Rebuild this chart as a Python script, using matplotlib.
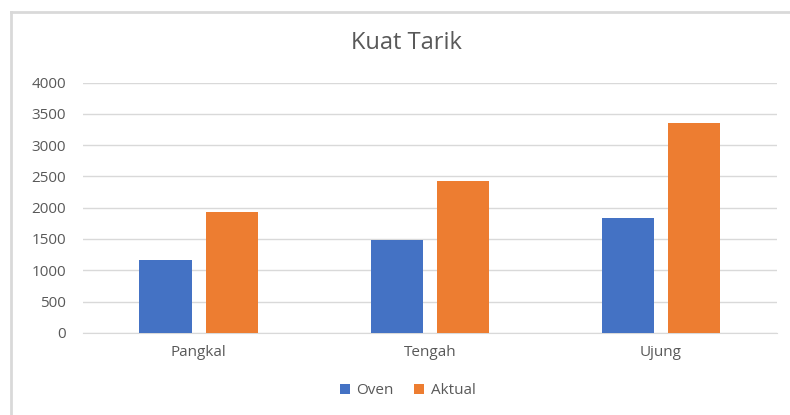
import matplotlib.pyplot as plt
import numpy as np

# --- Data ---
kategori = ["Pangkal", "Tengah", "Ujung"]
oven = [1172, 1481, 1832]
aktual = [1933, 2428, 3361]
yticks = [0, 500, 1000, 1500, 2000, 2500, 3000, 3500, 4000]

BLUE = "#4472C4"
ORANGE = "#ED7D31"
TEXT_CLR = "#595959"
GRID_CLR = "#D9D9D9"

plt.rcParams["font.family"] = ["Open Sans", "DejaVu Sans"]

fig = plt.figure(figsize=(7.9, 4.15), dpi=100)
ax = fig.add_axes([0.105, 0.198, 0.878, 0.603])

x = np.arange(len(kategori))
w = 0.225
off = 0.143
ax.bar(x - off, oven, width=w, color=BLUE, label="Oven", zorder=3)
ax.bar(x + off, aktual, width=w, color=ORANGE, label="Aktual", zorder=3)

ax.set_xlim(-0.5, 2.5)
ax.set_ylim(0, 4000)
ax.set_yticks(yticks)
ax.set_xticks(x)
ax.set_xticklabels(kategori)
ax.yaxis.grid(True, color=GRID_CLR, linewidth=1)
ax.set_axisbelow(True)
for s in ["top", "right", "left"]:
    ax.spines[s].set_visible(False)
ax.spines["bottom"].set_color(GRID_CLR)
ax.tick_params(axis="both", length=0, colors=TEXT_CLR, labelsize=11)
ax.tick_params(axis="y", pad=12)
ax.tick_params(axis="x", pad=9)

fig.text(0.515, 0.896, "Kuat Tarik", ha="center", va="center",
         fontsize=17, color=TEXT_CLR)

leg = fig.legend(loc="center", bbox_to_anchor=(0.516, 0.058), ncol=2,
                 frameon=False, fontsize=11, handlelength=0.65, handleheight=0.65,
                 columnspacing=1.3, handletextpad=0.45)
for t in leg.get_texts():
    t.set_color(TEXT_CLR)

# chart frame lines (left/top)
fig.add_artist(plt.Line2D([11 / 790, 11 / 790], [0, 1 - 12 / 415],
                          transform=fig.transFigure, color="#D9D9D9", linewidth=2))
fig.add_artist(plt.Line2D([11 / 790, 1], [1 - 12 / 415, 1 - 12 / 415],
                          transform=fig.transFigure, color="#D9D9D9", linewidth=2))

fig.savefig("out.png", dpi=100, facecolor="white")
